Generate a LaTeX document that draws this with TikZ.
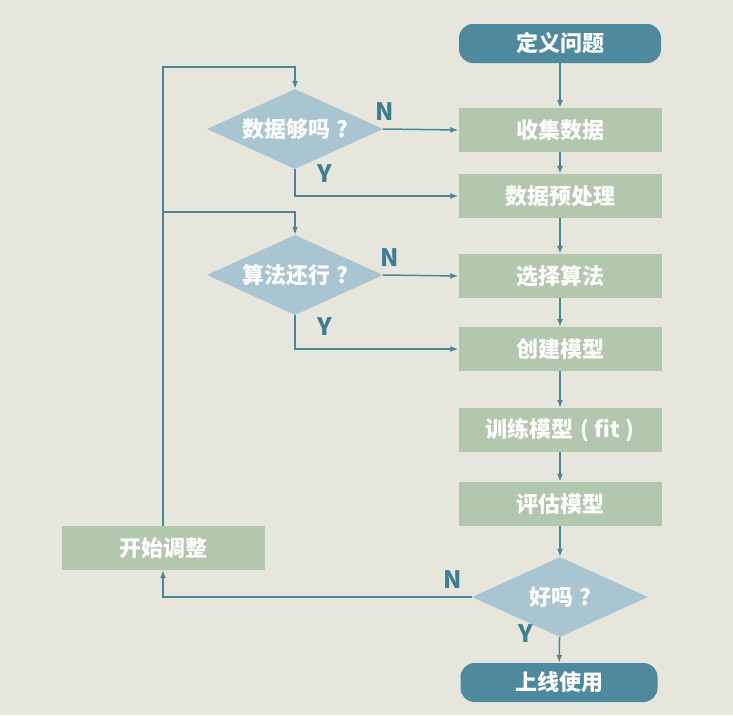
\documentclass[tikz,border=0pt]{standalone}
\usepackage{fontspec}
\newfontfamily\cjk{Noto Sans CJK SC}
\usetikzlibrary{shapes.geometric,arrows.meta}
\definecolor{bgc}{HTML}{E7E6DC}
\definecolor{teal}{HTML}{4F899E}
\definecolor{boxg}{HTML}{B2C7AE}
\definecolor{dia}{HTML}{A9C5D1}
\definecolor{linec}{HTML}{4A8599}
\definecolor{lab}{HTML}{3F7D93}
\tikzset{
  term/.style={rounded corners=14pt, fill=teal, minimum width=202pt, minimum height=39pt, inner sep=0pt, text=white, font=\cjk\bfseries\fontsize{22}{24}\selectfont},
  stepbox/.style={fill=boxg, minimum width=203pt, minimum height=44pt, inner sep=0pt, text=white, font=\cjk\bfseries\fontsize{22}{24}\selectfont},
  decide/.style={diamond, aspect=2.2, fill=dia, minimum width=176pt, minimum height=80pt, inner sep=0pt, text=white, font=\cjk\bfseries\fontsize{22}{24}\selectfont},
  conn/.style={draw=linec, line width=1.5pt, -{Latex[length=8pt,width=6pt]}},
  yn/.style={text=lab, font=\cjk\bfseries\fontsize{24}{26}\selectfont, inner sep=0pt}
}
\begin{document}
\begin{tikzpicture}[x=1pt,y=-1pt]
\fill[bgc] (0,0) rectangle (733,715);
\useasboundingbox (0,0) rectangle (733,715);

\node[term] (define) at (560,43.5) {定义问题};
\node[stepbox] (collect) at (560,130) {收集数据};
\node[stepbox] (pre) at (560,196) {数据预处理};
\node[stepbox] (select) at (560,276) {选择算法};
\node[stepbox] (create) at (560,349) {创建模型};
\node[stepbox] (train) at (560,430) {训练模型\hspace{7pt}(\hspace{5pt}fit\hspace{5pt})};
\node[stepbox] (eval) at (560,504) {评估模型};
\node[decide] (q3) at (560,597) {好吗\hspace{6pt}?};
\node[term, minimum width=197pt] (online) at (559,682.5) {上线使用};

\node[decide] (q1) at (295,129) {数据够吗\hspace{6pt}?};
\node[decide] (q2) at (295,275) {算法还行\hspace{6pt}?};
\node[stepbox] (adjust) at (163,548) {开始调整};

\coordinate (top) at (163,67);
\coordinate (mid) at (163,212);

\node[yn] (n1) at (385,112) {N};
\node[yn] (y1) at (325,174) {Y};
\node[yn] (n2) at (390,258) {N};
\node[yn] (y2) at (325,327) {Y};
\node[yn] (n3) at (453,580) {N};
\node[yn] (y3) at (526,634) {Y};

\draw[conn] (define) -- (collect);
\draw[conn] (collect) -- (pre);
\draw[conn] (pre) -- (select);
\draw[conn] (select) -- (create);
\draw[conn] (create) -- (train);
\draw[conn] (train) -- (eval);
\draw[conn] (eval) -- (q3);
\draw[conn] (q3) -- (online);

\draw[conn] (q1.east) -- (collect.west);
\draw[conn] (q1.south) |- (pre.west);
\draw[conn] (q2.east) -- (select.west);
\draw[conn] (q2.south) |- (create.west);

\draw[conn] (q3.west) -| (adjust.south);
\draw[conn] (adjust.north) -- (top) -| (q1.north);
\draw[conn] (mid) -| (q2.north);
\end{tikzpicture}
\end{document}
